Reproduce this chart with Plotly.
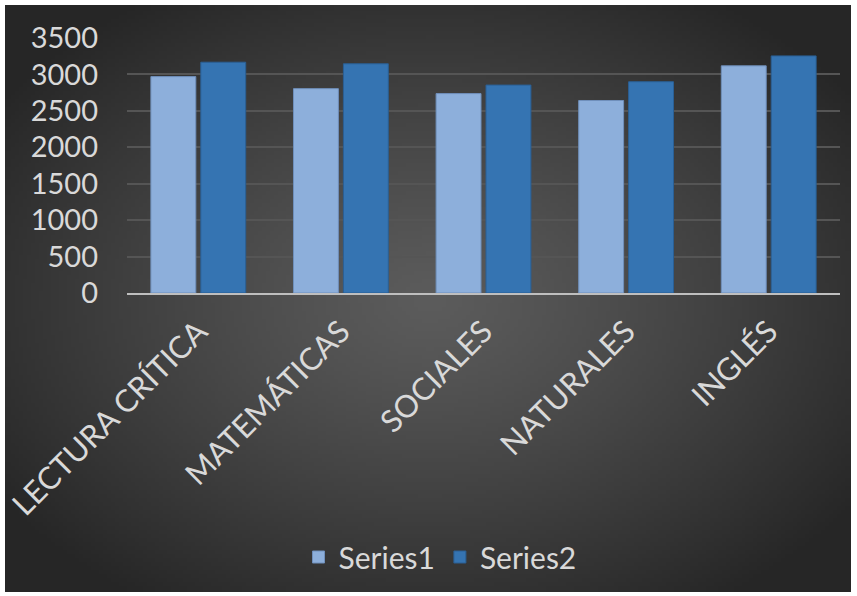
import base64, struct, zlib
import numpy as np
import plotly.graph_objects as go

categories = ["LECTURA CRÍTICA", "MATEMÁTICAS", "SOCIALES", "NATURALES", "INGLÉS"]
series1 = [2970, 2805, 2737, 2642, 3118]
series2 = [3168, 3146, 2854, 2900, 3254]
y_ticks = [0, 500, 1000, 1500, 2000, 2500, 3000, 3500]

# radial gradient background image (PNG built by hand)
W, H = 212, 147
yy, xx = np.mgrid[0:H, 0:W]
cx, cy = W * 0.5, H * 0.5
d = np.sqrt(((xx - cx) / (W * 0.62)) ** 2 + ((yy - cy) / (H * 0.62)) ** 2)
d = np.clip(d, 0, 1)
val = (92 - (92 - 38) * d ** 1.2).astype(np.uint8)
img = np.stack([val, val, val], axis=-1)
raw = b"".join(b"\x00" + img[r].tobytes() for r in range(H))
def chunk(t, data):
    c = struct.pack(">I", len(data)) + t + data
    return c + struct.pack(">I", zlib.crc32(t + data) & 0xffffffff)
png = b"\x89PNG\r\n\x1a\n" + chunk(b"IHDR", struct.pack(">IIBBBBB", W, H, 8, 2, 0, 0, 0)) \
      + chunk(b"IDAT", zlib.compress(raw, 9)) + chunk(b"IEND", b"")
uri = "data:image/png;base64," + base64.b64encode(png).decode()

L, R, T, B = 127, 840, 38, 293
pw, ph = R - L, B - T

fig = go.Figure()
fig.add_trace(go.Bar(name="Series1", x=categories, y=series1,
                     marker=dict(color="#8dafdb", line=dict(color="#6f8fbb", width=1))))
fig.add_trace(go.Bar(name="Series2", x=categories, y=series2,
                     marker=dict(color="#3574b2", line=dict(color="#2a5f94", width=1))))

font = "Lato, 'Open Sans', sans-serif"
fig.update_layout(
    width=857, height=596,
    margin=dict(l=L, r=857 - R, t=T, b=596 - B),
    paper_bgcolor="white", plot_bgcolor="rgba(0,0,0,0)",
    barmode="group", bargap=0.3, bargroupgap=0.1,
    font=dict(family=font, size=30, color="#d9d9d9"),
    showlegend=True,
    legend=dict(orientation="h", x=(440 - L) / pw, xanchor="center",
                y=(B - 557) / ph, yanchor="middle",
                font=dict(size=30, color="#d9d9d9"), bgcolor="rgba(0,0,0,0)",
                itemwidth=30, tracegroupgap=0),
    images=[dict(source=uri, xref="paper", yref="paper",
                 x=(5 - L) / pw, y=(B - 5) / ph,
                 sizex=846 / pw, sizey=587 / ph,
                 sizing="stretch", layer="below", xanchor="left", yanchor="top")],
)
fig.update_yaxes(range=[0, 3500], tickvals=y_ticks, showgrid=True,
                 gridcolor="#555555", gridwidth=1.5, zeroline=False,
                 ticks="", ticklabelstandoff=28, showline=False, automargin=False,
                 tickfont=dict(size=29, color="#d9d9d9"))
fig.update_xaxes(tickangle=-45, showline=True, linecolor="#bfbfbf", linewidth=2,
                 ticks="", ticklabelstandoff=6, automargin=False,
                 tickfont=dict(size=31, color="#d9d9d9"))

fig.write_html("out.html", config={"displayModeBar": False},
               post_script="document.body.style.margin='0';")
